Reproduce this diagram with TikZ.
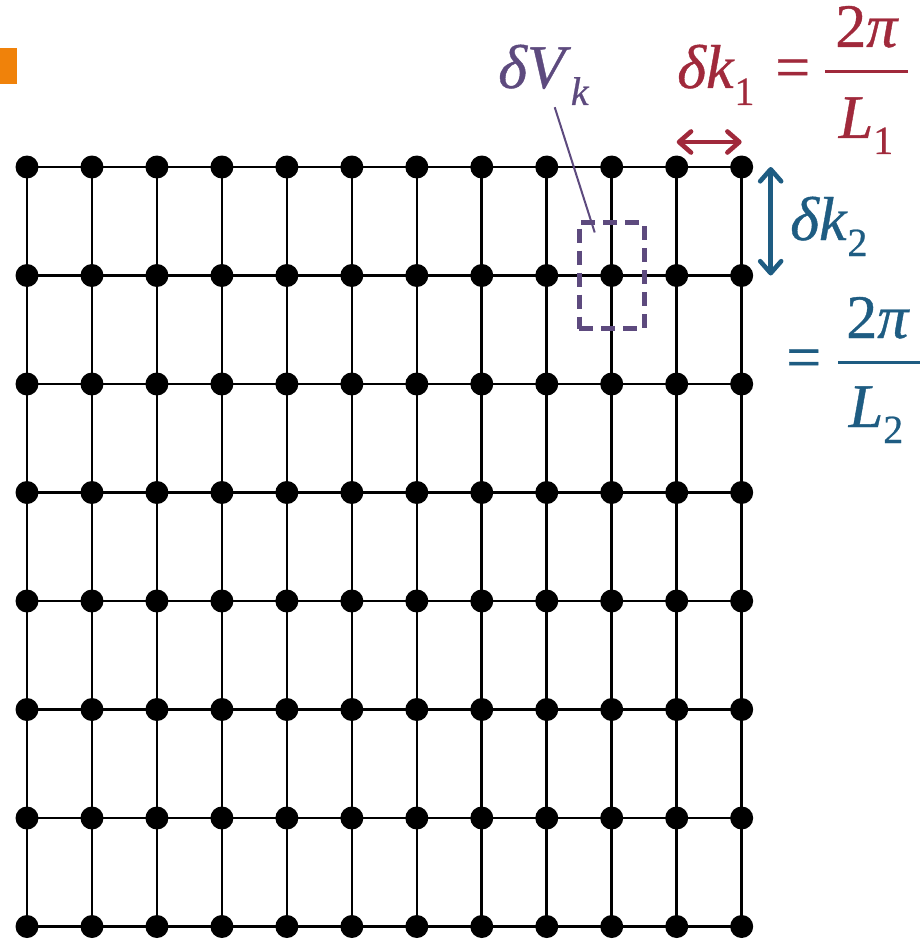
\documentclass[tikz,border=0pt]{standalone}
\usepackage{fontspec}
\setmainfont{Liberation Serif}
\newfontfamily\kfont{Liberation Serif}[FakeBold=0.6]
\usepackage{tikz}
\usetikzlibrary{arrows.meta}
\definecolor{klred}{HTML}{A0293B}
\definecolor{klblue}{HTML}{1E5C82}
\definecolor{klpurple}{HTML}{5D4A7E}
\definecolor{tagorange}{HTML}{F0820A}
\newcommand{\bigtxt}{\kfont\fontsize{62}{62}\selectfont}
\newcommand{\subtxt}[2][17pt]{\raisebox{-#1}{\fontsize{40}{40}\selectfont #2}}
\tikzset{
  kdot/.style={circle,fill=black,inner sep=0pt,minimum size=23pt},
  kline/.style={line width=2.6pt},
  karrow/.style={line width=4.6pt,
    {Straight Barb[round,length=12pt,width=21pt]}-{Straight Barb[round,length=12pt,width=21pt]}},
  klabel/.style={inner sep=0pt,anchor=base west},
  fracbar/.style={line width=3pt}
}

\begin{document}
\begin{tikzpicture}[x=1pt,y=-1pt]
\useasboundingbox (0,0) rectangle (922,939);
\def\dx{64.97}
\def\dy{108.5}
% corner tag
\fill[tagorange] (0,48) rectangle (17,84);
% lattice points
\foreach \i in {0,...,11}
  \foreach \j in {0,...,7}
    \node[kdot] (p-\i-\j) at (27+\i*\dx,167+\j*\dy) {};
% lattice lines
\foreach \j in {0,...,7}
  \draw[kline] (p-0-\j.center) -- (p-11-\j.center);
\foreach \i in {0,...,11}
  \draw[kline] (p-\i-0.center) -- (p-\i-7.center);

% cell volume
\node[draw=klpurple,line width=4.6pt,dash pattern=on 14pt off 8pt,
      minimum width=65pt,minimum height=106pt,inner sep=0pt] (cell) at (p-9-1) {};
\node[klabel,klpurple] (dV) at (498,88) {\bigtxt\textit{δV}\subtxt{\textit{k}}};
\draw[klpurple,line width=2pt] ([shift={(11,2)}]dV.south) -- ([shift={(-17,-43)}]cell.center);

% spacing along k1
\draw[karrow,klred] ([yshift=25pt]p-10-0.center) -- ([yshift=25pt]p-11-0.center);
\node[klabel,klred] (dk1) at (677,88) {\bigtxt\textit{δk}\subtxt{1}};
\node[klabel,klred] (eq1) at (775,88) {\bigtxt=};
\node[inner sep=0pt,anchor=base,klred] (num1) at (867,47) {\bigtxt 2\textit{π}};
\node[inner sep=0pt,anchor=base,klred] (den1) at (866,138) {\bigtxt\textit{L}\subtxt[16pt]{1}};
\draw[fracbar,klred] (825,72) -- (908,72);

% spacing along k2
\draw[karrow,klblue] ([xshift=29pt]p-11-0.center) -- ([xshift=29pt]p-11-1.center);
\node[klabel,klblue] (dk2) at (790,240) {\bigtxt\textit{δk}\subtxt[16pt]{2}};
\node[klabel,klblue] (eq2) at (786,378) {\bigtxt=};
\node[inner sep=0pt,anchor=base,klblue] (num2) at (878,338) {\bigtxt 2\textit{π}};
\node[inner sep=0pt,anchor=base,klblue] (den2) at (876,427) {\bigtxt\textit{L}\subtxt[16pt]{2}};
\draw[fracbar,klblue] (838,362) -- (920,362);
\end{tikzpicture}
\end{document}
